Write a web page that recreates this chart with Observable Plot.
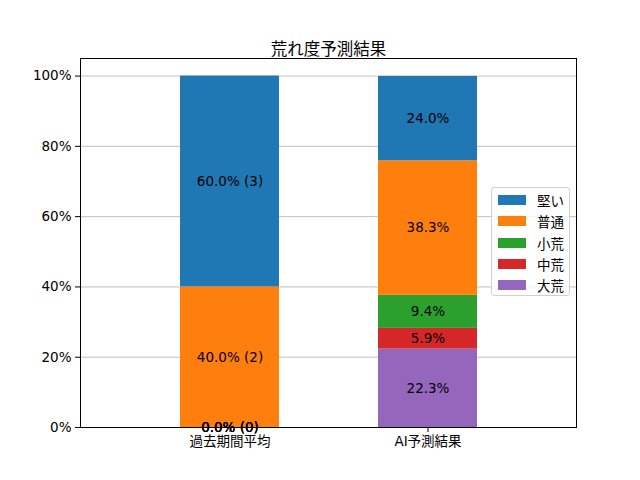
<!DOCTYPE html>
<html>
<head>
<meta charset="utf-8">
<script src="https://cdn.jsdelivr.net/npm/d3@7"></script>
<script src="https://cdn.jsdelivr.net/npm/@observablehq/plot@0.6"></script>
<style>
  body { margin: 0; background: #fff; }
  #wrap { position: relative; width: 640px; height: 480px; font-family: "DejaVu Sans", "Noto Sans CJK JP", sans-serif; }
  #legend { position: absolute; left: 491px; top: 187px; width: 79px; height: 109px; border: 1px solid #d0d0d0; border-radius: 3px; background: rgba(255,255,255,0.8); box-sizing: border-box; font-size: 13.5px; color: #000; }
  .li { position: absolute; left: 6px; height: 20px; display: flex; align-items: center; }
  .sw { width: 28px; height: 10px; margin-right: 11px; }
</style>
</head>
<body>
<div id="wrap"></div>
<script>
const categories = ["過去期間平均", "AI予測結果"];
const seriesNames = ["大荒", "中荒", "小荒", "普通", "堅い"]; // bottom to top
const seriesColors = ["#9467bd", "#d62728", "#2ca02c", "#ff7f0e", "#1f77b4"];
const pastValues = [0, 0, 0, 40.0, 60.0];
const pastCounts = [0, 0, 0, 2, 3];
const aiValues = [22.3, 5.9, 9.4, 38.3, 24.0];
const yTicks = [0, 20, 40, 60, 80, 100];
const legendOrder = ["堅い", "普通", "小荒", "中荒", "大荒"];
const titleText = "荒れ度予測結果";

const rows = [];
seriesNames.forEach((s, i) => {
  rows.push({category: categories[0], series: s, value: pastValues[i],
             label: `${pastValues[i].toFixed(1)}% (${pastCounts[i]})`});
});
seriesNames.forEach((s, i) => {
  rows.push({category: categories[1], series: s, value: aiValues[i],
             label: `${aiValues[i].toFixed(1)}%`});
});

const font = `"DejaVu Sans", "Noto Sans CJK JP", sans-serif`;

const chart = Plot.plot({
  width: 640,
  height: 480,
  marginLeft: 80,
  marginRight: 64,
  marginTop: 58,
  marginBottom: 53,
  style: {fontFamily: font, fontSize: "13.5px", color: "#000", background: "#fff"},
  x: {domain: categories, padding: 0.5, label: null, tickSize: 5, tickPadding: 4},
  y: {domain: [0, 105], ticks: yTicks, tickFormat: d => d + "%", label: null, tickSize: 5, tickPadding: 4},
  color: {domain: seriesNames, range: seriesColors},
  marks: [
    Plot.ruleY(yTicks, {stroke: "#b0b0b0", strokeWidth: 0.8}),
    Plot.barY(rows, {x: "category", y: "value", fill: "series", z: "series", inset: 0}),
    Plot.text(rows, Plot.stackY({x: "category", y: "value", z: "series", text: "label", fill: "#000", fontSize: 13.5})),
    Plot.axisX({tickSize: 5, tickPadding: 4, fontSize: 13.5}),
    Plot.axisY({ticks: yTicks, tickFormat: d => d + "%", tickSize: 5, tickPadding: 4, fontSize: 13.5}),
    Plot.frame({stroke: "#000", strokeWidth: 1}),
    Plot.text([titleText], {frameAnchor: "top", dy: -15, text: d => d, fontSize: 16.5, fill: "#000"})
  ]
});

const wrap = document.getElementById("wrap");
wrap.appendChild(chart);

const legend = document.createElement("div");
legend.id = "legend";
legendOrder.forEach((s, k) => {
  const item = document.createElement("div");
  item.className = "li";
  item.style.top = (2 + k * 21.3) + "px";
  const sw = document.createElement("div");
  sw.className = "sw";
  sw.style.background = seriesColors[seriesNames.indexOf(s)];
  const tx = document.createElement("span");
  tx.textContent = s;
  item.appendChild(sw);
  item.appendChild(tx);
  legend.appendChild(item);
});
wrap.appendChild(legend);
</script>
</body>
</html>
